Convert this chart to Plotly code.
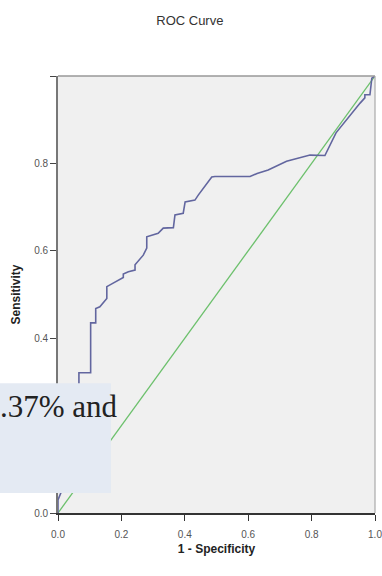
import plotly.graph_objects as go

# ROC curve (1 - specificity, sensitivity)
fpr = [0.0, 0.0, 0.013, 0.022, 0.038, 0.047, 0.057, 0.066, 0.066, 0.103, 0.103,
       0.119, 0.119, 0.132, 0.154, 0.154, 0.174, 0.190, 0.206, 0.206, 0.222,
       0.243, 0.243, 0.269, 0.280, 0.280, 0.296, 0.316, 0.332, 0.364, 0.369,
       0.395, 0.401, 0.432, 0.443, 0.485, 0.495, 0.606, 0.628, 0.663, 0.721,
       0.795, 0.842, 0.877, 0.953, 0.968, 0.968, 0.984, 0.990, 1.0]
tpr = [0.0, 0.03, 0.053, 0.098, 0.167, 0.236, 0.27, 0.293, 0.321, 0.321, 0.435,
       0.435, 0.468, 0.472, 0.491, 0.518, 0.526, 0.533, 0.539, 0.547, 0.552,
       0.556, 0.568, 0.590, 0.606, 0.632, 0.636, 0.640, 0.652, 0.653, 0.682,
       0.686, 0.712, 0.716, 0.728, 0.769, 0.770, 0.770, 0.777, 0.785, 0.805,
       0.819, 0.818, 0.870, 0.938, 0.950, 0.957, 0.957, 0.995, 1.0]
ref_x = [0.0, 1.0]
ref_y = [0.0, 1.0]

x_ticks = [0.0, 0.2, 0.4, 0.6, 0.8, 1.0]
x_labels = ["0.0", "0.2", "0.4", "0.6", "0.8", "1.0"]
y_ticks = [0.0, 0.2, 0.4, 0.6, 0.8, 1.0]
# the 0.2 label is hidden under the pasted text box in the reference
y_labels = ["0.0", "", "0.4", "0.6", "0.8", ""]

tick_font = dict(family="Liberation Sans Narrow, Arial Narrow, Liberation Sans, Arial",
                 size=10, color="#555555")

fig = go.Figure()
fig.add_trace(go.Scatter(x=ref_x, y=ref_y, mode="lines",
                         line=dict(color="#6cc06c", width=1.3), hoverinfo="skip"))
fig.add_trace(go.Scatter(x=fpr, y=tpr, mode="lines",
                         line=dict(color="#62669f", width=1.6)))

fig.update_layout(
    width=382, height=576,
    margin=dict(l=58, r=7, t=76, b=63, autoexpand=False),
    paper_bgcolor="white", plot_bgcolor="#f0f0f0",
    showlegend=False,
    title=dict(text="ROC Curve", x=0.497, xanchor="center", y=0.965, yanchor="middle",
               font=dict(family="Liberation Sans, Arial", size=13, color="#333333")),
    xaxis=dict(range=[0, 1], tickvals=x_ticks, ticktext=x_labels, automargin=False,
               ticks="outside", ticklen=6, tickwidth=1.2, tickcolor="#333333",
               ticklabeloverflow="allow", ticklabelstandoff=5,
               showgrid=False, zeroline=False,
               showline=True, linecolor="#333333", linewidth=1.6,
               tickfont=tick_font,
               title=dict(text="<b>1 - Specificity</b>", standoff=6,
                          font=dict(family="Liberation Sans, Arial", size=12, color="#222222"))),
    yaxis=dict(range=[0, 1], tickvals=y_ticks, ticktext=y_labels, automargin=False,
               ticks="outside", ticklen=6, tickwidth=1.2, tickcolor="#444444",
               ticklabeloverflow="allow",
               showgrid=False, zeroline=False,
               showline=True, linecolor="#777777", linewidth=1.6,
               tickfont=tick_font,
               title=dict(text="<b>Sensitivity</b>", standoff=11,
                          font=dict(family="Liberation Sans, Arial", size=12, color="#222222"))),
    shapes=[
        dict(type="line", xref="paper", yref="paper", x0=0, x1=1, y0=1, y1=1,
             line=dict(color="#999999", width=1.6)),
        dict(type="line", xref="paper", yref="paper", x0=1, x1=1, y0=0, y1=1,
             line=dict(color="#aaaaaa", width=1.2)),
        dict(type="rect", xref="paper", yref="paper", x0=-0.183, x1=0.167,
             y0=0.046, y1=0.297, layer="above", line=dict(width=0),
             fillcolor="#e4eaf3"),
    ],
    annotations=[
        dict(text=".37% and", xref="paper", yref="paper", x=-0.188, y=0.243,
             xanchor="left", yanchor="middle", showarrow=False,
             font=dict(family="Liberation Serif, Times New Roman, serif", size=31,
                       color="#222222")),
    ],
)

fig.write_html("out.html", config={"displayModeBar": False},
               post_script="document.body.style.margin='0';document.body.style.overflow='hidden';")
